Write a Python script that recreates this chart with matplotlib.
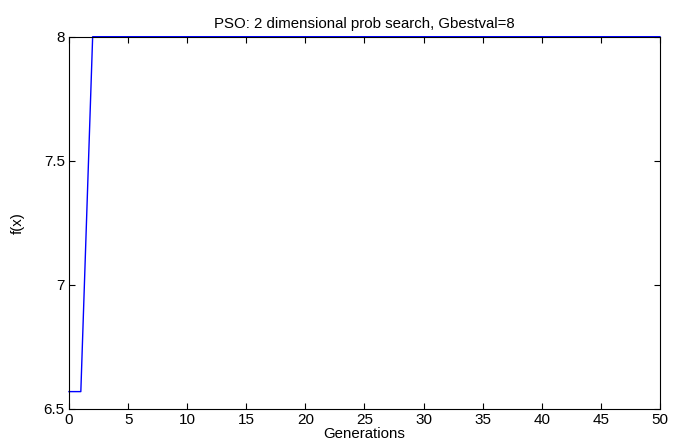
import matplotlib
matplotlib.use("Agg")
import matplotlib.pyplot as plt
import numpy as np

# best fitness per generation (reads off the chart)
generations = list(range(51))
gbest = [6.57, 6.57] + [8.0] * 49

plt.rcParams["font.family"] = ["Liberation Sans", "DejaVu Sans"]
plt.rcParams["font.size"] = 11

fig = plt.figure(figsize=(6.86, 4.46), dpi=100)
ax = fig.add_axes([0.1006, 0.083, 0.8614, 0.8347])

ax.plot(generations, gbest, color="blue", linewidth=1.0, clip_on=False)

ax.set_xlim(0, 50)
ax.set_ylim(6.5, 8)
ax.set_xticks(np.arange(0, 51, 5))
ax.set_yticks([6.5, 7, 7.5, 8])
ax.set_yticklabels(["6.5", "7", "7.5", "8"])
ax.tick_params(direction="in", top=True, right=True, length=4, width=0.8, pad=3,
               labelsize=11)
for s in ax.spines.values():
    s.set_linewidth(0.8)

ax.set_title("PSO: 2 dimensional prob search, Gbestval=8", fontsize=10.8, pad=6)
ax.set_xlabel("Generations", fontsize=10.8, labelpad=0)
ax.set_ylabel("f(x)", fontsize=10.8, labelpad=14)

fig.savefig("out.png", dpi=100)
